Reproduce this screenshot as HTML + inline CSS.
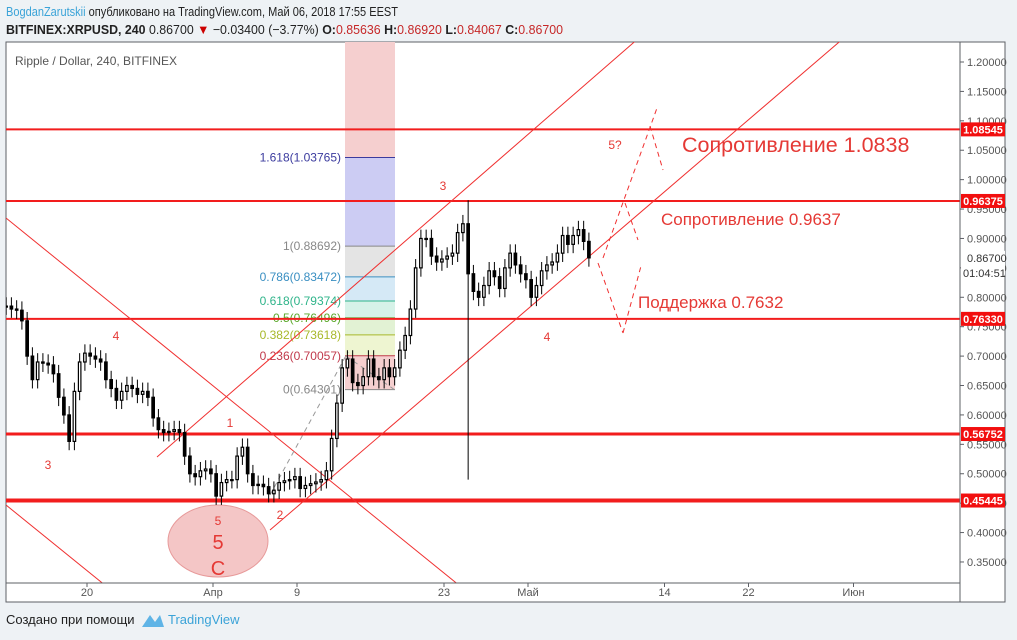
<!DOCTYPE html>
<html><head><meta charset="utf-8">
<style>
body{margin:0;background:#eef2f5;font-family:"Liberation Sans","DejaVu Sans",sans-serif;}
svg{display:block}
</style></head>
<body>
<svg id="chart" width="1017" height="640" viewBox="0 0 1017 640" xmlns="http://www.w3.org/2000/svg">
<rect x="0" y="0" width="1017" height="640" fill="#eef2f5"/>
<text x="6" y="16" font-size="13" fill="#222" textLength="392" lengthAdjust="spacingAndGlyphs"><tspan fill="#3aa3d8">BogdanZarutskii</tspan> опубликовано на TradingView.com, Май 06, 2018 17:55 EEST</text>
<text x="6" y="34" font-size="13" fill="#222" textLength="557" lengthAdjust="spacingAndGlyphs"><tspan font-weight="bold">BITFINEX:XRPUSD, 240</tspan> 0.86700 <tspan fill="#c00">▼</tspan> −0.03400 (−3.77%) <tspan font-weight="bold">O:</tspan><tspan fill="#c62828">0.85636</tspan> <tspan font-weight="bold">H:</tspan><tspan fill="#c62828">0.86920</tspan> <tspan font-weight="bold">L:</tspan><tspan fill="#c62828">0.84067</tspan> <tspan font-weight="bold">C:</tspan><tspan fill="#c62828">0.86700</tspan></text>
<rect x="6" y="42" width="999" height="560" fill="#fff" stroke="#5d6066" stroke-width="1"/>
<defs><clipPath id="plotclip"><rect x="6" y="42" width="954" height="541"/></clipPath></defs>
<g id="plot" clip-path="url(#plotclip)"></g>
<line x1="960" y1="42" x2="960" y2="602" stroke="#5d6066"/>
<line x1="6" y1="583" x2="960" y2="583" stroke="#5d6066"/>
<g id="axes"></g>
<text x="15" y="65" font-size="12" fill="#555">Ripple / Dollar, 240, BITFINEX</text>
<text x="6" y="624" font-size="13" fill="#222">Создано при помощи</text>
<g>
<path d="M142 627 L150 615 L155 622 L160 615 L164 627 Z" fill="#5fb4e6"/>
<text x="168" y="624" font-size="13" fill="#3aa3d8">TradingView</text>
</g>
</svg>
<script>
// ---- data ----
const startDay = -19.7;        // days relative to Apr 1
const stepDays = 0.5;
const closes = [0.785,0.78,0.778,0.76,0.70,0.66,0.69,0.688,0.685,0.67,0.63,0.60,0.555,0.64,0.69,0.705,0.70,0.695,0.69,0.66,
0.645,0.625,0.64,0.65,0.645,0.635,0.64,0.63,0.595,0.575,0.57,0.572,0.575,0.57,0.53,0.50,0.495,0.505,0.508,0.50,
0.462,0.485,0.49,0.49,0.53,0.545,0.50,0.48,0.482,0.478,0.466,0.472,0.485,0.488,0.49,0.495,0.475,0.48,0.483,0.486,
0.49,0.505,0.56,0.62,0.68,0.695,0.655,0.65,0.665,0.695,0.665,0.66,0.68,0.665,0.68,0.71,0.735,0.78,0.85,0.90,
0.90,0.87,0.86,0.865,0.87,0.875,0.91,0.925,0.84,0.81,0.80,0.82,0.845,0.835,0.815,0.85,0.875,0.855,0.84,0.83,
0.80,0.82,0.845,0.855,0.86,0.875,0.905,0.89,0.905,0.915,0.895,0.867];
const spikeIndex = 88, spikeLow = 0.49, spikeHigh = 0.965;
const priceTicks = [1.2,1.15,1.1,1.05,1.0,0.95,0.9,0.85,0.8,0.75,0.7,0.65,0.6,0.55,0.5,0.45,0.4,0.35];
const timeLabels = ["20","Апр","9","23","Май","14","22","Июн"];
const timeDays = [-12,0,8,22,30,43,51,61];
const levels = [1.08545,0.96375,0.7633,0.56752,0.45445];
const levelWidths = [2,2,2,3,4];
const fibRatios = ["1.618","1","0.786","0.618","0.5","0.382","0.236","0"];
const fibPrices = [1.03765,0.88692,0.83472,0.79374,0.76496,0.73618,0.70057,0.64301];
const fibColors = ["#3b3b9e","#888","#3a8fc2","#2fb48a","#5aa82a","#a8b82a","#c0394b","#888"];
const fibFills = ["#ccccf3","#e4e4e4","#d5e9f6","#d6f2e8","#e2f2d4","#eef5d1","#f5cfcf"];

// ---- scales ----
const y = p => 62 + (1.2 - p) * 588.2;
const x = d => 213 + d * 10.5;
const NS = "http://www.w3.org/2000/svg";
function mk(tag, attrs, parent){const e=document.createElementNS(NS,tag);for(const k in attrs)e.setAttribute(k,attrs[k]);parent.appendChild(e);return e;}
const plot = document.getElementById('plot');
const axes = document.getElementById('axes');

// fib box
const fx1 = 345, fx2 = 395;
let r = mk('rect',{x:fx1,y:42,width:fx2-fx1,height:y(fibPrices[0])-42,fill:"#f5cfcf"},plot);


for(let i=0;i<fibFills.length;i++){
  const e = mk('rect',{x:fx1,y:y(fibPrices[i]),width:fx2-fx1,height:y(fibPrices[i+1])-y(fibPrices[i]),fill:fibFills[i]},plot);
  
  
}
for(let i=0;i<fibPrices.length;i++){
  const l = mk('line',{x1:fx1,x2:fx2,y1:y(fibPrices[i]),y2:y(fibPrices[i]),stroke:fibColors[i],'stroke-width':1},plot);
  
  
  const t = mk('text',{x:341,y:y(fibPrices[i])+4,'font-size':12,fill:fibColors[i],'text-anchor':'end'},plot);
  t.textContent = fibRatios[i]+"("+fibPrices[i].toFixed(5)+")";
  
  
}

// horizontal levels
levels.forEach((p,i)=>{
  const l = mk('line',{x1:6,x2:960,y1:y(p),y2:y(p),stroke:"#f21d1d",'stroke-width':levelWidths[i]},plot);
  
  
});

// trend lines (drawing annotations)
const trend = [[157,457,640,37],[270,530,845,37],[6,218,460,586],[6,505,106,586]];
trend.forEach(t=>{
  const l = mk('line',{x1:t[0],y1:t[1],x2:t[2],y2:t[3],stroke:"#f03030",'stroke-width':1},plot);
  
  
});
const dashes = [[598,263,623,333],[623,333,641,266],[603,258,657,108],[650,126,663,170],[625,203,638,240]];
dashes.forEach(t=>{
  const l = mk('line',{x1:t[0],y1:t[1],x2:t[2],y2:t[3],stroke:"#f03030",'stroke-width':1,'stroke-dasharray':'5,4'},plot);
  
  
});
const gd = [[270,495,348,352],[346,356,395,390]];
gd.forEach(t=>{
  const l = mk('line',{x1:t[0],y1:t[1],x2:t[2],y2:t[3],stroke:"#999",'stroke-width':1,'stroke-dasharray':'5,4'},plot);
  
  
});

// wave circle
const c = mk('ellipse',{cx:218,cy:541,rx:50,ry:36,fill:"#f4c6c6",stroke:"#e79a9a",'stroke-width':1},plot);



// candles
const cw = 2.5;
for(let i=0;i<closes.length;i++){
  const o = i===0?closes[0]:closes[i-1], cl = closes[i];
  const cx = x(startDay + i*stepDays);
  let hi = Math.max(o,cl)+0.015, lo = Math.min(o,cl)-0.015;
  if(i===spikeIndex){hi=spikeHigh;lo=spikeLow;}
  const w = mk('line',{x1:cx,x2:cx,y1:y(hi),y2:y(lo),stroke:"#000",'stroke-width':1},plot);
  
  
  const top = y(Math.max(o,cl)), bot = y(Math.min(o,cl));
  const b = mk('rect',{x:cx-cw/2,y:top,width:cw,height:Math.max(1,bot-top),fill:cl>=o?"#fff":"#000",stroke:"#000",'stroke-width':1.2},plot);
  
  
}

// annotation texts
const notes = [["Сопротивление 1.0838",682,152,21.5],["Сопротивление 0.9637",661,225,17],["Поддержка 0.7632",638,308,17],
["4",116,340,12],["3",48,469,12],["1",230,427,12],["3",443,190,12],["4",547,341,12],["2",280,519,12],["5?",615,149,12],
["5",218,525,12],["5",218,549,20],["C",218,575,20]];
notes.forEach(n=>{
  const t = mk('text',{x:n[1],y:n[2],'font-size':n[3],fill:"#e53935",'text-anchor':(n[0].length<=2?'middle':'start')},plot);
  t.textContent = n[0];
  
  
});

// price axis
priceTicks.forEach(p=>{
  const tk = mk('line',{x1:960,x2:964,y1:y(p),y2:y(p),stroke:"#5d6066"},axes);
  
  
  const t = mk('text',{x:967,y:y(p)+4,'font-size':11,fill:"#555"},axes);
  t.textContent = p.toFixed(5);
  
  
});
levels.forEach(p=>{
  const rr = mk('rect',{x:961,y:y(p)-7,width:44,height:14,fill:"#f20f0f"},axes);
  
  
  const t = mk('text',{x:983,y:y(p)+4,'font-size':11,'font-weight':'bold',fill:"#fff",'text-anchor':'middle'},axes);
  t.textContent = p.toFixed(5);
  
  
});
const last = closes[closes.length-1];
const lt = mk('rect',{x:961,y:y(last)-7,width:44,height:24,fill:"#fff"},axes);


const ltt = mk('text',{x:967,y:y(last)+4,'font-size':11,fill:"#333"},axes);
ltt.textContent = last.toFixed(5);


const cd = mk('text',{x:963,y:y(last)+19,'font-size':11,fill:"#333"},axes);
cd.textContent = "01:04:51";



// time axis
timeLabels.forEach((lab,i)=>{
  const tk = mk('line',{x1:x(timeDays[i]),x2:x(timeDays[i]),y1:583,y2:587,stroke:"#5d6066"},axes);
  
  
  const t = mk('text',{x:x(timeDays[i]),y:596,'font-size':11,fill:"#555",'text-anchor':'middle'},axes);
  t.textContent = lab;
  
  
});
</script>
</body></html>
